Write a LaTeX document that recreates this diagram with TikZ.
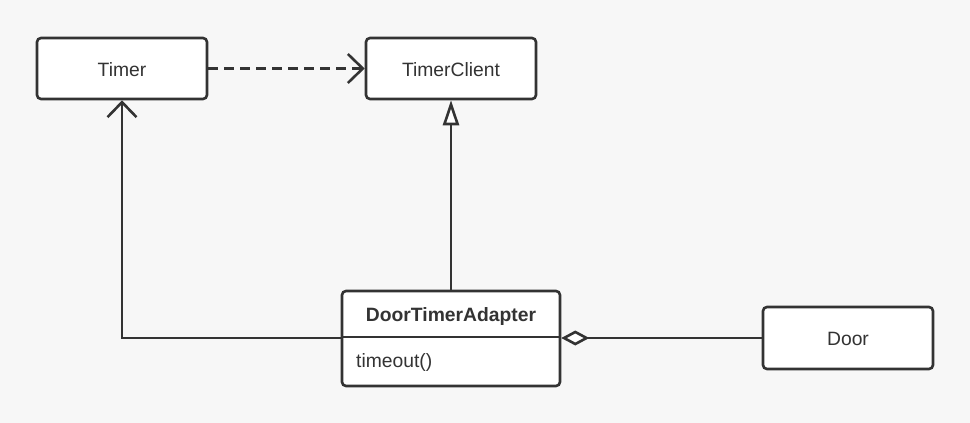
\documentclass[tikz,border=0pt]{standalone}
\usepackage{fontspec}
\setmainfont{Liberation Sans}
\usetikzlibrary{arrows.meta}
\definecolor{bg}{HTML}{F7F7F7}
\definecolor{ink}{HTML}{333333}
\tikzset{
  box/.style={draw=ink, fill=white, line width=2.6pt, rounded corners=4pt, inner sep=0pt},
  lbl/.style={text=ink, font=\fontsize{19.3}{22}\selectfont, inner sep=0pt},
  conn/.style={draw=ink, line width=2.6pt},
  barb/.style={-{Straight Barb[length=15pt,width=29pt,line width=2.6pt]}},
}
\begin{document}
\begin{tikzpicture}[x=1pt,y=-1pt]
\fill[bg] (0,0) rectangle (970,423);
\useasboundingbox (0,0) rectangle (970,423);
\node[box, minimum width=170pt, minimum height=61pt] (timer) at (122,68.5) {};
\node[lbl] at ([yshift=-1pt]timer.center) {Timer};
\node[box, minimum width=170pt, minimum height=61pt] (client) at (451,68.5) {};
\node[lbl] at ([yshift=-1pt]client.center) {TimerClient};
\node[box, minimum width=218pt, minimum height=95pt] (dta) at (451,338.5) {};
\coordinate (divl) at (342,337);
\coordinate (divr) at (560,337);
\draw[conn] (divl) -- (divr);
\node[lbl, font=\fontsize{19.3}{22}\selectfont\bfseries] (dtatitle) at (451,316.5) {DoorTimerAdapter};
\node[lbl, anchor=west] (dtaop) at (356,363) {timeout()};
\node[box, minimum width=170pt, minimum height=62pt] (door) at (848,338) {};
\node[lbl] at ([yshift=-1pt]door.center) {Door};
% dependency
\draw[conn, dash pattern=on 10pt off 6pt, barb] (timer.east) -- (client.west);
% association to Timer
\coordinate (bend) at (122,338);
\draw[conn, barb] (dta.west |- bend) -- (bend) -- (timer.south);
% realization
\draw[conn, -{Triangle[open,length=25pt,width=16pt,line width=2.6pt,fill=white]}] (dta.north) -- (client.south);
% aggregation
\draw[conn, {Diamond[open,length=28pt,width=15pt,line width=2.6pt,fill=white]}-] (dta.east |- door.west) -- (door.west);
\end{tikzpicture}
\end{document}
